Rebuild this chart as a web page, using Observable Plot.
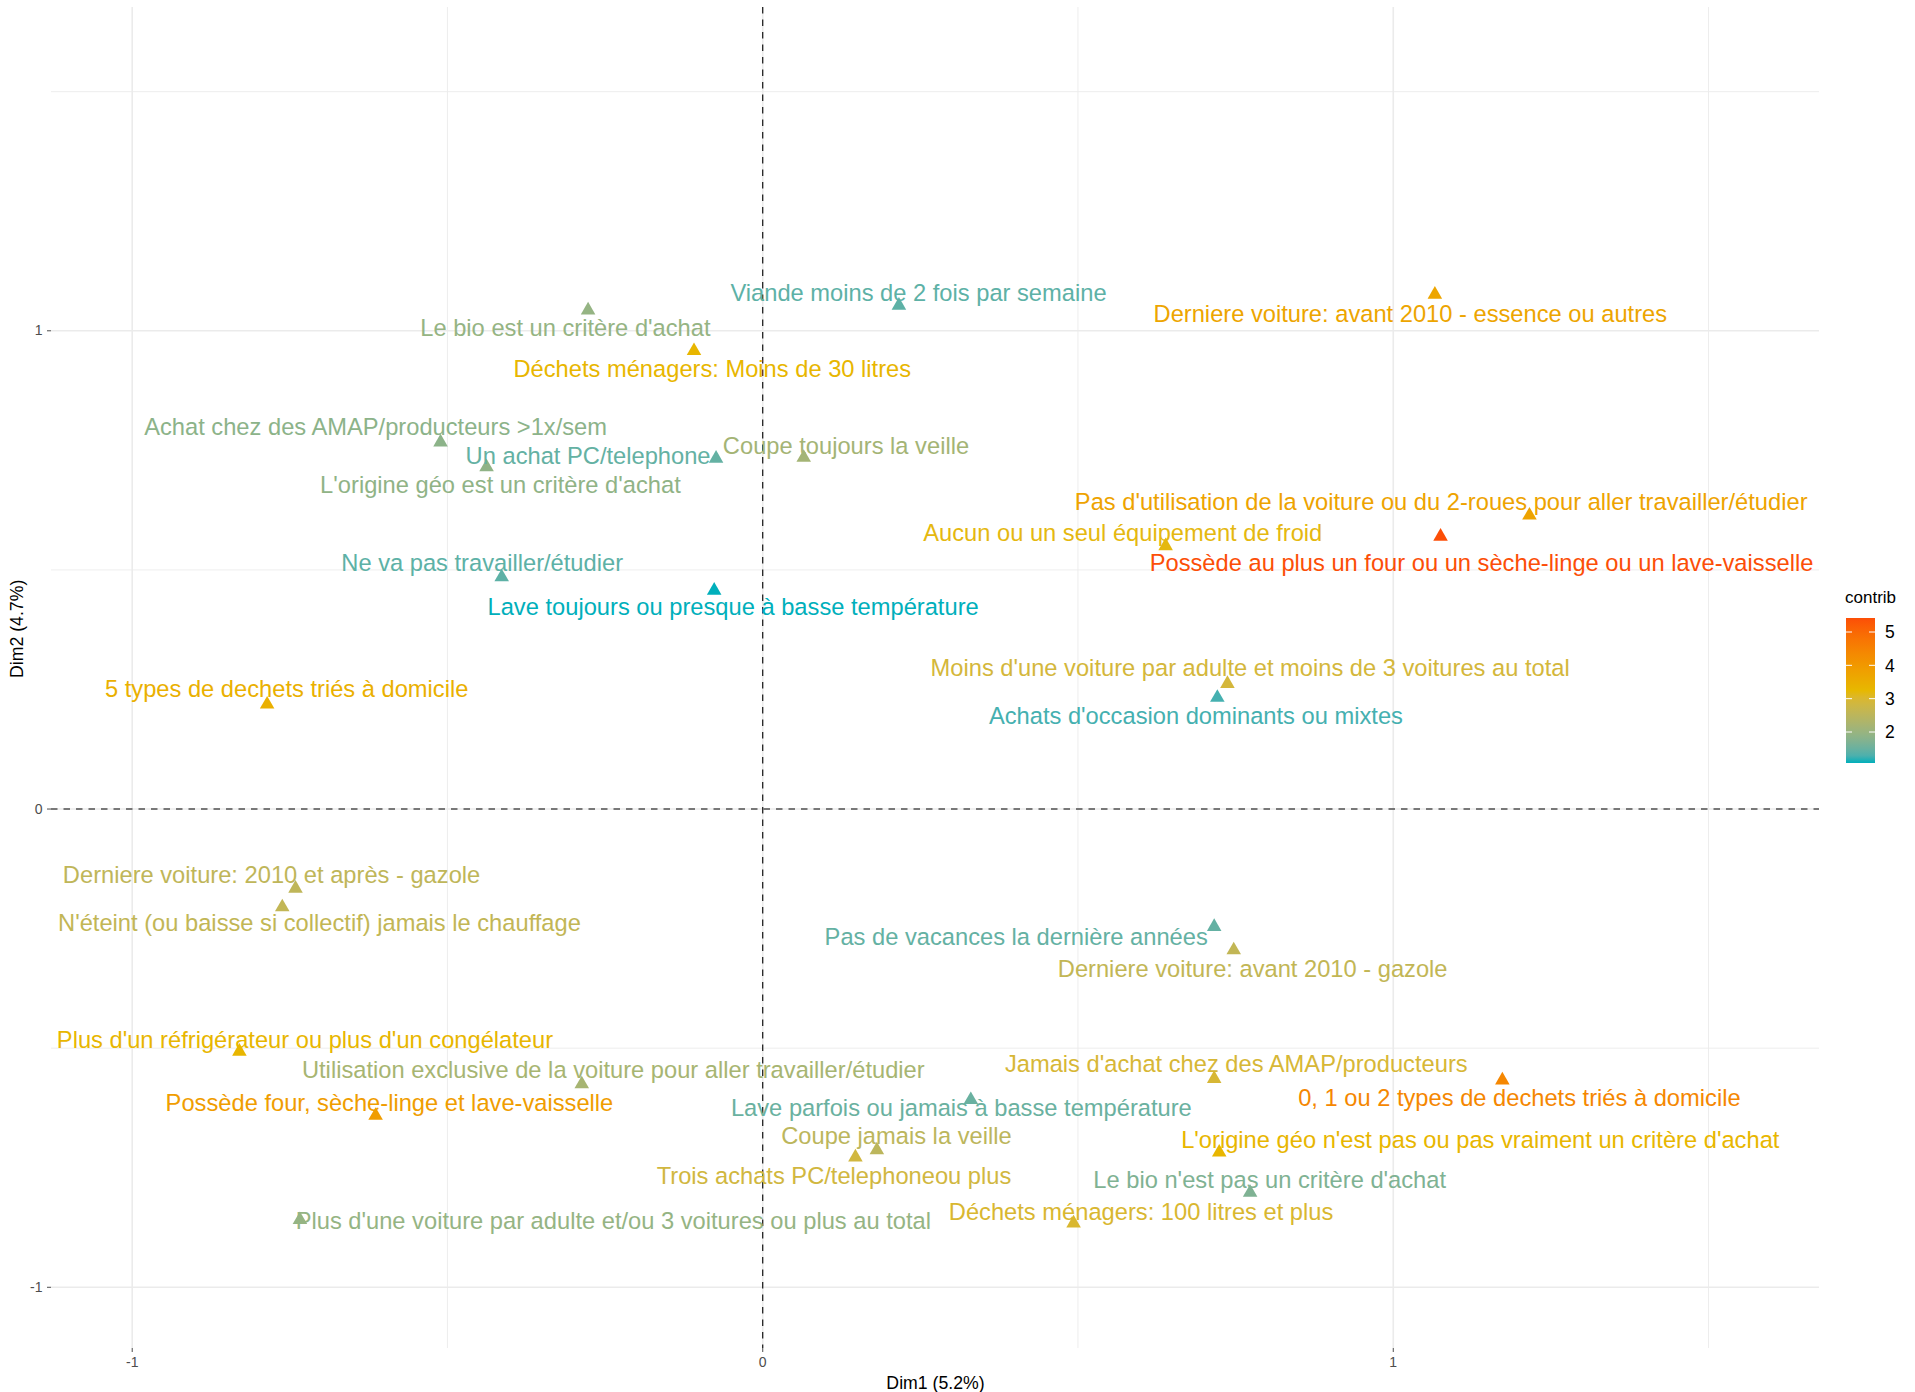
<!DOCTYPE html>
<html><head><meta charset="utf-8">
<script src="https://cdn.jsdelivr.net/npm/d3@7"></script>
<script src="https://cdn.jsdelivr.net/npm/@observablehq/plot@0.6"></script>
<style>
body{margin:0;background:#fff;}
#wrap{position:relative;width:1915px;height:1392px;font-family:"Liberation Sans",Arial,sans-serif;}
</style></head><body><div id="wrap"></div>
<script>
const categories = [
"Viande moins de 2 fois par semaine",
"Derniere voiture: avant 2010 - essence ou autres",
"Le bio est un critère d'achat",
"Déchets ménagers: Moins de 30 litres",
"Achat chez des AMAP/producteurs >1x/sem",
"Un achat PC/telephone",
"L'origine géo est un critère d'achat",
"Coupe toujours la veille",
"Pas d'utilisation de la voiture ou du 2-roues pour aller travailler/étudier",
"Aucun ou un seul équipement de froid",
"Possède au plus un four ou un sèche-linge ou un lave-vaisselle",
"Ne va pas travailler/étudier",
"Lave toujours ou presque à basse température",
"5 types de dechets triés à domicile",
"Moins d'une voiture par adulte et moins de 3 voitures au total",
"Achats d'occasion dominants ou mixtes",
"Derniere voiture: 2010 et après - gazole",
"N'éteint (ou baisse si collectif) jamais le chauffage",
"Pas de vacances la dernière années",
"Derniere voiture: avant 2010 - gazole",
"Plus d'un réfrigérateur ou plus d'un congélateur",
"Utilisation exclusive de la voiture pour aller travailler/étudier",
"Possède four, sèche-linge et lave-vaisselle",
"Jamais d'achat chez des AMAP/producteurs",
"0, 1 ou 2 types de dechets triés à domicile",
"Lave parfois ou jamais à basse température",
"Coupe jamais la veille",
"Trois achats PC/telephoneou plus",
"L'origine géo n'est pas ou pas vraiment un critère d'achat",
"Le bio n'est pas un critère d'achat",
"Déchets ménagers: 100 litres et plus",
"Plus d'une voiture par adulte et/ou 3 voitures ou plus au total"
];
const dim1 = [0.216, 1.066, -0.277, -0.109, -0.511, -0.074, -0.438, 0.065, 1.216, 0.639, 1.075, -0.414, -0.077, -0.786, 0.737, 0.721, -0.741, -0.762, 0.716, 0.747, -0.830, -0.287, -0.614, 0.716, 1.173, 0.330, 0.181, 0.147, 0.724, 0.773, 0.493, -0.734];
const dim2 = [1.053, 1.076, 1.043, 0.958, 0.767, 0.733, 0.715, 0.735, 0.614, 0.550, 0.570, 0.485, 0.457, 0.219, 0.262, 0.233, -0.166, -0.205, -0.246, -0.295, -0.507, -0.575, -0.641, -0.564, -0.567, -0.608, -0.713, -0.728, -0.718, -0.802, -0.866, -0.859];
const contrib = [1.4, 3.7, 1.95, 3.3, 1.85, 1.45, 1.9, 2.15, 3.75, 3.2, 5.42, 1.4, 1.07, 3.45, 2.9, 1.25, 2.55, 2.6, 1.45, 2.6, 3.3, 2.2, 3.9, 2.95, 4.4, 1.5, 2.5, 2.85, 3.3, 1.7, 3.0, 1.95];
const labelDim1 = [0.247, 1.027, -0.313, -0.080, -0.614, -0.277, -0.416, 0.132, 1.076, 0.571, 1.140, -0.445, -0.047, -0.755, 0.773, 0.687, -0.779, -0.703, 0.402, 0.777, -0.726, -0.237, -0.592, 0.751, 1.200, 0.315, 0.212, 0.113, 1.138, 0.804, 0.600, -0.237];
const labelDim2 = [1.078, 1.034, 1.006, 0.920, 0.799, 0.738, 0.677, 0.759, 0.641, 0.577, 0.513, 0.513, 0.421, 0.250, 0.294, 0.194, -0.138, -0.240, -0.268, -0.335, -0.483, -0.547, -0.616, -0.534, -0.605, -0.626, -0.685, -0.769, -0.692, -0.777, -0.843, -0.863];
const majorTicks = [-1, 0, 1];
const minorTicks = [-0.5, 0.5, 1.5];
const legendTicks = [2, 3, 4, 5];
const xTitle = "Dim1 (5.2%)";
const yTitle = "Dim2 (4.7%)";
const legendTitle = "contrib";
const gradientColors = ["#00AFBB", "#E7B800", "#FC4E07"];

const data = categories.map((c, i) => ({label: c, dim1: dim1[i], dim2: dim2[i], contrib: contrib[i], lx: labelDim1[i], ly: labelDim2[i]}));
const [cmin, cmax] = d3.extent(contrib);
const colorOpts = {type: "linear", domain: [cmin, (cmin + cmax) / 2, cmax], range: gradientColors, interpolate: "lab"};
const font = "Liberation Sans, Arial, sans-serif";

const chart = Plot.plot({
  width: 1915, height: 1392,
  marginLeft: 51, marginRight: 96, marginTop: 7, marginBottom: 44,
  style: {fontFamily: font, fontSize: "14px", color: "#4d4d4d", background: "white"},
  x: {domain: [-1.128, 1.676], ticks: majorTicks, tickSize: 4, tickFormat: d => String(d), label: null},
  y: {domain: [-1.128, 1.676], ticks: majorTicks, tickSize: 4, tickFormat: d => String(d), label: null},
  color: colorOpts,
  marks: [
    Plot.ruleX(minorTicks, {stroke: "#ebebeb", strokeWidth: 0.9}),
    Plot.ruleY(minorTicks, {stroke: "#ebebeb", strokeWidth: 0.9}),
    Plot.ruleX(majorTicks, {stroke: "#ebebeb", strokeWidth: 1.6}),
    Plot.ruleY(majorTicks, {stroke: "#ebebeb", strokeWidth: 1.6}),
    Plot.ruleX([0], {stroke: "#000", strokeWidth: 1.1, strokeDasharray: "6.5,6"}),
    Plot.ruleY([0], {stroke: "#000", strokeWidth: 1.1, strokeDasharray: "6.5,6"}),
    Plot.dot(data, {x: "dim1", y: "dim2", fill: "contrib", symbol: "triangle", r: 5.4}),
    Plot.text(data, {x: "lx", y: "ly", text: "label", fill: "contrib", fontSize: 23.7, fontFamily: font, lineAnchor: "middle"}),
    Plot.text([xTitle], {frameAnchor: "bottom", dy: 35, fontSize: 17.7, fill: "black", lineAnchor: "middle"}),
    Plot.text([yTitle], {frameAnchor: "left", dx: -34, rotate: -90, fontSize: 17.7, fill: "black", lineAnchor: "middle"})
  ]
});
const wrap = document.getElementById("wrap");
wrap.appendChild(chart);

// colour legend (vertical bar, like ggplot colourbar)
const cs = Plot.scale({color: colorOpts});
const lg = d3.create("svg").attr("width", 85).attr("height", 200)
  .style("position", "absolute").style("left", "1830px").style("top", "585px")
  .style("font-family", font);
const grad = lg.append("defs").append("linearGradient").attr("id", "cg")
  .attr("x1", 0).attr("y1", 1).attr("x2", 0).attr("y2", 0);
d3.range(0, 1.0001, 0.05).forEach(t => {
  grad.append("stop").attr("offset", t).attr("stop-color", cs.apply(cmin + t * (cmax - cmin)));
});
const barX = 16, barW = 29, barY = 33, barH = 145;
const ly = v => barY + (cmax - v) / (cmax - cmin) * barH;
lg.append("text").attr("x", barX - 1).attr("y", 18).attr("font-size", 17).attr("fill", "black").text(legendTitle);
lg.append("rect").attr("x", barX).attr("y", barY).attr("width", barW).attr("height", barH).attr("fill", "url(#cg)");
legendTicks.forEach(v => {
  lg.append("line").attr("x1", barX).attr("x2", barX + 6).attr("y1", ly(v)).attr("y2", ly(v)).attr("stroke", "white").attr("stroke-width", 1);
  lg.append("line").attr("x1", barX + barW - 6).attr("x2", barX + barW).attr("y1", ly(v)).attr("y2", ly(v)).attr("stroke", "white").attr("stroke-width", 1);
  lg.append("text").attr("x", barX + barW + 10).attr("y", ly(v)).attr("dy", "0.36em").attr("font-size", 17.5).attr("fill", "black").text(v);
});
wrap.appendChild(lg.node());
</script>
</body></html>
